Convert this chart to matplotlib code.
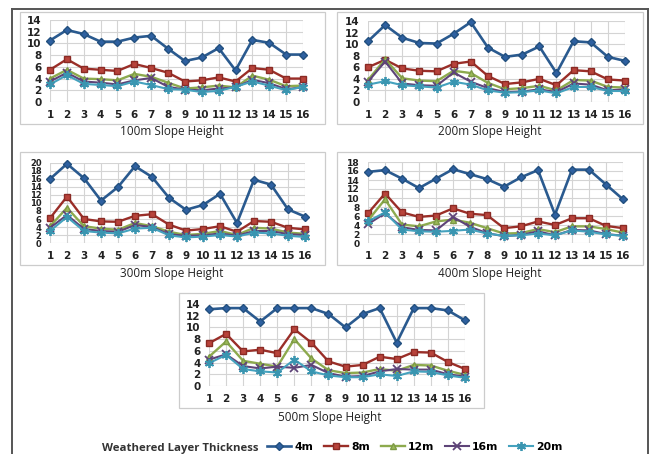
import matplotlib
matplotlib.use("Agg")
import matplotlib.pyplot as plt
from matplotlib.lines import Line2D
from matplotlib.patches import Rectangle

W, H = 650, 454

positions = list(range(1, 17))
series_names = ["4m", "8m", "12m", "16m", "20m"]

h100_4m = [10.5, 12.3, 11.6, 10.3, 10.3, 11.0, 11.3, 9.1, 7.0, 7.6, 9.2, 5.4, 10.6, 10.1, 8.1, 8.1]
h100_8m = [5.5, 7.3, 5.7, 5.5, 5.3, 6.5, 5.8, 5.0, 3.5, 3.7, 4.2, 3.5, 5.8, 5.5, 4.0, 4.0]
h100_12m = [4.0, 5.5, 4.0, 3.9, 3.7, 4.8, 4.3, 3.3, 2.3, 2.5, 2.8, 2.5, 4.5, 3.8, 2.7, 2.8]
h100_16m = [3.5, 5.0, 3.5, 3.3, 3.0, 3.7, 4.1, 2.6, 2.1, 2.0, 2.3, 2.5, 3.8, 3.2, 2.2, 2.5]
h100_20m = [3.0, 4.6, 3.1, 2.9, 2.7, 3.5, 2.9, 2.2, 2.1, 1.7, 1.9, 2.6, 3.5, 2.8, 2.0, 2.6]

h200_4m = [10.5, 13.3, 11.1, 10.2, 10.1, 11.8, 13.8, 9.4, 7.8, 8.2, 9.6, 5.0, 10.5, 10.3, 7.8, 7.1]
h200_8m = [6.0, 7.3, 5.8, 5.4, 5.3, 6.6, 7.0, 4.5, 3.1, 3.4, 4.0, 2.9, 5.5, 5.3, 3.9, 3.7]
h200_12m = [3.8, 7.4, 4.1, 3.7, 3.6, 5.4, 5.0, 3.3, 2.2, 2.4, 2.8, 2.0, 3.8, 3.7, 2.6, 2.5]
h200_16m = [3.5, 7.0, 3.2, 2.9, 2.8, 5.1, 3.5, 2.4, 1.7, 1.8, 2.2, 1.7, 3.2, 3.0, 2.0, 2.2]
h200_20m = [3.0, 3.6, 2.9, 2.7, 2.5, 3.5, 3.0, 2.0, 1.6, 1.7, 2.0, 1.5, 2.6, 2.6, 1.9, 1.9]

h300_4m = [16.0, 19.8, 16.2, 10.6, 14.0, 19.2, 16.5, 11.3, 8.3, 9.5, 12.3, 5.0, 15.8, 14.6, 8.4, 6.6]
h300_8m = [6.2, 11.6, 6.0, 5.4, 5.3, 6.8, 7.2, 4.6, 3.1, 3.5, 4.2, 2.8, 5.5, 5.3, 3.8, 3.4]
h300_12m = [4.2, 8.8, 4.2, 3.6, 3.3, 5.0, 4.2, 2.8, 2.0, 2.3, 3.0, 2.0, 3.8, 3.6, 2.6, 2.3]
h300_16m = [3.8, 7.0, 3.5, 3.0, 2.8, 4.5, 4.0, 2.2, 1.8, 1.9, 2.4, 1.8, 3.0, 3.0, 2.2, 2.0]
h300_20m = [3.0, 6.5, 3.0, 2.6, 2.4, 3.6, 3.8, 1.9, 1.4, 1.6, 2.0, 1.6, 2.6, 2.4, 1.8, 1.5]

h400_4m = [15.8, 16.2, 14.3, 12.2, 14.3, 16.4, 15.3, 14.2, 12.5, 14.6, 16.2, 6.3, 16.3, 16.3, 13.0, 9.7]
h400_8m = [6.6, 11.0, 6.8, 5.8, 6.1, 7.7, 6.5, 6.2, 3.3, 3.7, 4.8, 4.0, 5.5, 5.5, 3.8, 3.3]
h400_12m = [5.0, 9.7, 4.1, 3.7, 4.8, 5.2, 4.5, 3.3, 2.1, 2.2, 3.1, 2.4, 3.7, 3.7, 3.1, 2.3]
h400_16m = [4.2, 6.6, 3.5, 2.9, 2.8, 5.8, 3.6, 2.2, 1.5, 1.8, 2.6, 1.7, 2.9, 2.8, 2.0, 1.6]
h400_20m = [4.8, 6.8, 3.0, 2.6, 2.5, 2.7, 3.0, 2.1, 1.6, 1.7, 2.1, 1.7, 2.8, 2.5, 1.9, 1.6]

h500_4m = [13.1, 13.3, 13.3, 11.0, 13.3, 13.3, 13.3, 12.3, 10.0, 12.3, 13.3, 7.4, 13.3, 13.3, 12.9, 11.2]
h500_8m = [7.3, 8.9, 5.9, 6.2, 5.6, 9.7, 7.4, 4.2, 3.3, 3.6, 5.0, 4.6, 5.8, 5.7, 4.1, 2.9]
h500_12m = [5.0, 7.6, 4.3, 3.8, 3.3, 8.0, 4.7, 2.7, 2.2, 2.3, 2.9, 2.6, 3.6, 3.5, 2.6, 1.9]
h500_16m = [4.5, 5.4, 3.4, 3.0, 3.3, 3.1, 3.6, 2.2, 1.6, 1.7, 2.5, 2.9, 2.8, 2.8, 2.0, 1.6]
h500_20m = [3.9, 5.3, 2.9, 2.5, 2.3, 4.5, 2.5, 1.8, 1.5, 1.5, 2.0, 1.7, 2.5, 2.4, 1.8, 1.4]

panel_titles = ["100m Slope Height", "200m Slope Height", "300m Slope Height",
                "400m Slope Height", "500m Slope Height"]
panel_data = [
    [h100_4m, h100_8m, h100_12m, h100_16m, h100_20m],
    [h200_4m, h200_8m, h200_12m, h200_16m, h200_20m],
    [h300_4m, h300_8m, h300_12m, h300_16m, h300_20m],
    [h400_4m, h400_8m, h400_12m, h400_16m, h400_20m],
    [h500_4m, h500_8m, h500_12m, h500_16m, h500_20m],
]
panel_ymax = [14, 14, 20, 18, 14]
legend_title = "Weathered Layer Thickness"

# styles
line_colors = ["#2A5A8F", "#9A2E28", "#8DAA4E", "#5E4478", "#45A2BE"]
marker_face = ["#2E60A0", "#B8433B", "#9BBB59", "#6A4F8A", "#4BACC6"]
marker_edge = ["#23507F", "#8A2A24", "#7E9A45", "#5E4478", "#3A95B0"]
markers = ["D", "s", "^", "x", (6, 2, 0)]
msizes = [4.0, 5.0, 5.0, 5.2, 6.5]
lws = [1.9, 1.7, 1.7, 1.5, 1.5]
ytick_sizes = [7.5, 7.5, 6.0, 6.6, 7.5]

# pixel boxes (left, top, right, bottom) for data areas
ax_boxes = [(50, 20, 303, 102), (368, 21, 625, 102), (50, 163, 305, 243),
            (368, 162, 623, 243), (209, 304, 465, 386)]
title_pos = [(172, 132), (490, 131), (172, 274), (490, 274), (330, 417)]
frame_boxes = [(20, 12, 325, 124), (337, 12, 643, 124), (20, 152, 325, 265),
               (337, 152, 643, 265), (179, 293, 484, 408)]

fig = plt.figure(figsize=(W / 100, H / 100), dpi=100)
fig.patch.set_facecolor("white")

def fx(x):
    return x / W

def fy(y):
    return 1 - y / H

# outer frame
fig.add_artist(Line2D([fx(12), fx(12)], [fy(9), 0], transform=fig.transFigure, color="#555555", lw=1.4))
fig.add_artist(Line2D([fx(648), fx(648)], [fy(9), 0], transform=fig.transFigure, color="#555555", lw=1.4))
fig.add_artist(Line2D([fx(12), fx(648)], [fy(9), fy(9)], transform=fig.transFigure, color="#555555", lw=1.4))

for (l, t, r, b) in frame_boxes:
    fig.add_artist(Rectangle((fx(l), fy(b)), fx(r) - fx(l), fy(t) - fy(b),
                             transform=fig.transFigure, fill=False,
                             edgecolor="#CCCCCC", lw=0.9))

for i, (l, t, r, b) in enumerate(ax_boxes):
    ax = fig.add_axes([fx(l), fy(b), fx(r) - fx(l), fy(t) - fy(b)])
    for j, ys in enumerate(panel_data[i]):
        ax.plot(positions, ys, color=line_colors[j], lw=lws[j], marker=markers[j],
                markersize=msizes[j], markerfacecolor=marker_face[j],
                markeredgecolor=marker_edge[j], markeredgewidth=1.0 if j < 3 else 1.3,
                label=series_names[j], clip_on=False, zorder=3 + j * 0.1)
    ax.set_xlim(1, 16)
    ax.set_ylim(0, panel_ymax[i])
    ax.set_xticks(positions)
    ax.set_yticks(range(0, panel_ymax[i] + 1, 2))
    ax.grid(True, color="#D4D4D4", lw=0.8)
    ax.set_axisbelow(True)
    for s in ax.spines.values():
        s.set_visible(False)
    ax.tick_params(length=0, colors="#222222")
    ax.tick_params(axis="x", labelsize=7.5, pad=6)
    ax.tick_params(axis="y", labelsize=ytick_sizes[i], pad=6)
    for lab in ax.get_xticklabels() + ax.get_yticklabels():
        lab.set_fontweight("bold")
    tx, ty = title_pos[i]
    fig.text(fx(tx), fy(ty), panel_titles[i], ha="center", va="center",
             fontsize=8.5, color="#222222", family="Open Sans")
    if i == 0:
        handles, labels = ax.get_legend_handles_labels()

fig.text(fx(102), fy(448), legend_title, ha="left", va="center", fontsize=8.2,
         fontweight="bold", color="#333333", family="Open Sans")
fig.legend(handles, labels, loc="center left", bbox_to_anchor=(fx(262), fy(447)),
           ncol=5, frameon=False, handlelength=2.2, handletextpad=0.3,
           columnspacing=1.0, prop={"size": 7.8, "weight": "bold"}, borderpad=0)

fig.savefig("out.png", dpi=100, facecolor="white")
